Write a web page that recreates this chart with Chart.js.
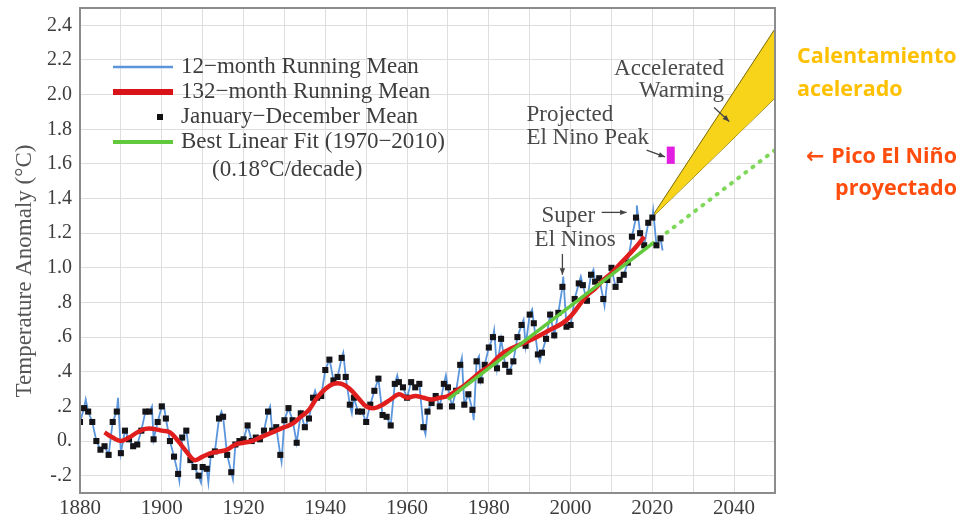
<!DOCTYPE html>
<html>
<head>
<meta charset="utf-8">
<script src="https://cdn.jsdelivr.net/npm/chart.js@4.4.1/dist/chart.umd.min.js"></script>
<style>
  body { margin: 0; background: #fff; }
  #wrap { width: 964px; height: 521px; }
</style>
</head>
<body>
<div id="wrap"><canvas id="temp-chart" width="964" height="521"></canvas></div>
<script>
// annual (January-December) global temperature anomaly, 1880-2022
const firstYear = 1880;
const annualMean = [
  0.11, 0.19, 0.17, 0.11, 0.00, -0.05, -0.03, -0.08, 0.11, 0.17,
  -0.07, 0.06, 0.01, -0.03, -0.02, 0.06, 0.17, 0.17, 0.01, 0.11,
  0.20, 0.13, 0.00, -0.09, -0.19, 0.02, 0.06, -0.11, -0.15, -0.20,
  -0.15, -0.16, -0.08, -0.06, 0.13, 0.14, -0.08, -0.18, -0.02, 0.00,
  0.01, 0.09, 0.00, 0.02, 0.01, 0.06, 0.17, 0.06, 0.08, -0.08,
  0.12, 0.19, 0.12, -0.01, 0.16, 0.08, 0.13, 0.25, 0.25, 0.26,
  0.41, 0.47, 0.35, 0.37, 0.48, 0.37, 0.21, 0.25, 0.17, 0.17,
  0.11, 0.21, 0.29, 0.36, 0.15, 0.14, 0.09, 0.33, 0.34, 0.31,
  0.25, 0.34, 0.31, 0.33, 0.08, 0.17, 0.22, 0.26, 0.20, 0.33,
  0.31, 0.20, 0.29, 0.44, 0.21, 0.27, 0.18, 0.46, 0.35, 0.44,
  0.54, 0.60, 0.42, 0.59, 0.44, 0.40, 0.46, 0.60, 0.67, 0.55,
  0.73, 0.68, 0.50, 0.51, 0.59, 0.73, 0.61, 0.74, 0.89, 0.66,
  0.67, 0.82, 0.91, 0.90, 0.81, 0.96, 0.92, 0.94, 0.82, 0.93,
  1.00, 0.89, 0.93, 0.96, 1.03, 1.18, 1.29, 1.20, 1.13, 1.26,
  1.29, 1.13, 1.17
];

// extra excursions of the 12-month running mean between annual points
const monthlyPeakYears = [1881.4, 1889.3, 1897.6, 1900.5, 1904.3, 1909.6, 1911.4, 1914.6, 1917.4, 1926.5,
  1929.3, 1937.5, 1941.3, 1944.4, 1946.5, 1957.6, 1964.5, 1969.5, 1973.4, 1976.3,
  1977.6, 1981.3, 1988.5, 1990.6, 1992.5, 1998.2, 2002.5, 2005.6, 2008.3, 2016.2,
  2020.2, 2022.5];
const monthlyPeakValues = [0.24, 0.25, 0.20, 0.21, -0.23, -0.24, -0.24, 0.17, -0.22, 0.20,
  -0.12, 0.29, 0.44, 0.51, 0.16, 0.38, 0.04, 0.38, 0.48, 0.12,
  0.49, 0.64, 0.70, 0.76, 0.46, 0.95, 0.95, 0.99, 0.78, 1.36,
  1.33, 1.10];

// 132-month running mean
const runningYears = [1886, 1888, 1890, 1892, 1894, 1896, 1898, 1900, 1902, 1904,
  1906, 1908, 1910, 1912, 1914, 1916, 1918, 1920, 1922, 1924,
  1926, 1928, 1930, 1932, 1934, 1936, 1938, 1940, 1942, 1944,
  1946, 1948, 1950, 1952, 1954, 1956, 1958, 1960, 1962, 1964,
  1966, 1968, 1970, 1972, 1974, 1976, 1978, 1980, 1983, 1986,
  1990, 1994, 1998, 2000, 2002, 2004, 2006, 2008, 2010, 2012,
  2014, 2016, 2018];
const runningMean = [0.05, 0.02, 0.00, 0.02, 0.05, 0.07, 0.07, 0.06, 0.05, 0.00,
  -0.06, -0.11, -0.09, -0.07, -0.06, -0.05, -0.02, -0.01, 0.00, 0.02,
  0.04, 0.06, 0.08, 0.10, 0.14, 0.18, 0.25, 0.30, 0.33, 0.33,
  0.30, 0.25, 0.20, 0.19, 0.21, 0.24, 0.27, 0.25, 0.26, 0.25,
  0.24, 0.25, 0.26, 0.29, 0.32, 0.36, 0.40, 0.43, 0.50, 0.54,
  0.58, 0.63, 0.68, 0.72, 0.78, 0.84, 0.88, 0.93, 0.97, 1.02,
  1.07, 1.12, 1.18];

// best linear fit 1970-2010 (0.18 C/decade) and its extension
const fitYears = [1970, 2020];
const fitValues = [0.24, 1.14];
const trendYears = [2020, 2050];
const trendValues = [1.14, 1.68];

// accelerated warming wedge
const wedgeYears = [2019.5, 2050];
const wedgeUpper = [1.28, 2.38];
const wedgeLower = [1.28, 1.98];

// projected El Nino peak
const peakYears = [2024.5, 2024.5];
const peakValues = [1.60, 1.70];

const xGridYears = [1880, 1890, 1900, 1910, 1920, 1930, 1940, 1950, 1960, 1970, 1980,
  1990, 2000, 2010, 2020, 2030, 2040, 2050];
const xTickLabels = ["1880", "1900", "1920", "1940", "1960", "1980", "2000", "2020", "2040"];
const yTicks = [-0.2, 0, 0.2, 0.4, 0.6, 0.8, 1.0, 1.2, 1.4, 1.6, 1.8, 2.0, 2.2, 2.4];
const yTickLabels = ["-.2", "0.", ".2", ".4", ".6", ".8", "1.0", "1.2", "1.4", "1.6", "1.8", "2.0", "2.2", "2.4"];

const pairs = (xs, ys) => xs.map((x, i) => ({ x: x, y: ys[i] }));

const annualPoints = annualMean.map((v, i) => ({ x: firstYear + i, y: v }));
const monthlyLine = annualPoints
  .concat(pairs(monthlyPeakYears, monthlyPeakValues))
  .sort((a, b) => a.x - b.x);

const SERIF = "'Liberation Serif', 'DejaVu Serif', serif";
const TEXT = "#3d3d3d";

// legend, annotations, frame, axis title and side notes
const decorations = {
  id: "decorations",
  afterDatasetsDraw(chart) {
    const { ctx, chartArea: a, scales } = chart;
    const px = (yr) => scales.x.getPixelForValue(yr);
    const py = (v) => scales.y.getPixelForValue(v);

    ctx.save();
    // plot frame
    ctx.strokeStyle = "#8c8c8c";
    ctx.lineWidth = 2;
    ctx.strokeRect(a.left, a.top, a.right - a.left, a.bottom - a.top);

    // y axis title
    ctx.save();
    ctx.translate(25, 271);
    ctx.rotate(-Math.PI / 2);
    ctx.font = "23px " + SERIF;
    ctx.fillStyle = "#555";
    ctx.textAlign = "center";
    ctx.textBaseline = "middle";
    ctx.fillText("Temperature Anomaly (\u00b0C)", 0, 0);
    ctx.restore();

    // legend
    const lx = a.left + 33, lw = 60, tx = a.left + 101;
    const rows = [59, 84, 109, 134];
    ctx.font = "23px " + SERIF;
    ctx.fillStyle = TEXT;
    ctx.textBaseline = "middle";
    ctx.textAlign = "left";
    const items = [
      { label: "12\u2212month Running Mean", color: "#5b95dc", width: 2.5 },
      { label: "132\u2212month Running Mean", color: "#d8141a", width: 6 },
      { label: "January\u2212December Mean", dot: true },
      { label: "Best Linear Fit (1970\u22122010)", color: "#62c83c", width: 4 }
    ];
    items.forEach((it, i) => {
      const y = a.top + rows[i];
      if (it.dot) {
        ctx.fillStyle = "#111";
        ctx.fillRect(lx + 44, y - 3, 6, 6);
      } else {
        ctx.strokeStyle = it.color;
        ctx.lineWidth = it.width;
        ctx.beginPath();
        ctx.moveTo(lx, y);
        ctx.lineTo(lx + lw, y);
        ctx.stroke();
      }
      ctx.fillStyle = TEXT;
      ctx.fillText(it.label, tx, y);
    });
    ctx.fillText("(0.18\u00b0C/decade)", a.left + 132, a.top + 162);

    // annotation text
    const notes = [
      { t: "Accelerated", x: 2037.5, y: 2.15, align: "right" },
      { t: "Warming", x: 2037.5, y: 2.02, align: "right" },
      { t: "Projected", x: 1989.2, y: 1.88, align: "left" },
      { t: "El Nino Peak", x: 1989.2, y: 1.75, align: "left" },
      { t: "Super", x: 1992.9, y: 1.30, align: "left" },
      { t: "El Ninos", x: 1991.2, y: 1.16, align: "left" }
    ];
    ctx.font = "23px " + SERIF;
    ctx.fillStyle = "#4a4a4a";
    notes.forEach((n) => {
      ctx.textAlign = n.align;
      ctx.fillText(n.t, px(n.x), py(n.y));
    });

    // annotation arrows
    const arrows = [
      [2035.1, 1.925, 2038.8, 1.845],
      [2018.6, 1.68, 2023.1, 1.64],
      [2007.6, 1.32, 2013.7, 1.32],
      [1998.0, 1.08, 1998.0, 0.96]
    ];
    ctx.strokeStyle = "#444";
    ctx.fillStyle = "#444";
    ctx.lineWidth = 1.3;
    arrows.forEach(([x0, y0, x1, y1]) => {
      const ax = px(x0), ay = py(y0), bx = px(x1), by = py(y1);
      const ang = Math.atan2(by - ay, bx - ax);
      ctx.beginPath();
      ctx.moveTo(ax, ay);
      ctx.lineTo(bx, by);
      ctx.stroke();
      ctx.beginPath();
      ctx.moveTo(bx, by);
      ctx.lineTo(bx - 7 * Math.cos(ang - 0.4), by - 7 * Math.sin(ang - 0.4));
      ctx.lineTo(bx - 7 * Math.cos(ang + 0.4), by - 7 * Math.sin(ang + 0.4));
      ctx.closePath();
      ctx.fill();
    });

    // side notes in Spanish
    ctx.font = "bold 21.5px 'Open Sans', sans-serif";
    ctx.textAlign = "left";
    ctx.fillStyle = "#ffc000";
    ctx.fillText("Calentamiento", a.right + 22, 57);
    ctx.fillText("acelerado", a.right + 22, 90);
    ctx.textAlign = "right";
    ctx.fillStyle = "#ff4d0d";
    ctx.fillText("Pico El Ni\u00f1o", 957, 157);
    ctx.fillText("proyectado", 957, 189);
    const w = ctx.measureText("Pico El Ni\u00f1o").width;
    ctx.font = "bold 22px 'DejaVu Sans', sans-serif";
    ctx.fillText("\u2190", 957 - w - 7, 157);
    ctx.restore();
  }
};

const ctx = document.getElementById("temp-chart").getContext("2d");

const chart = new Chart(ctx, {
  type: "line",
  data: {
    datasets: [
      {
        label: "Accelerated Warming",
        data: pairs(wedgeYears, wedgeUpper),
        borderColor: "#7a6a08",
        borderWidth: 1,
        backgroundColor: "#f7d31a",
        fill: "+1",
        pointRadius: 0,
        order: 9
      },
      {
        label: "wedge lower",
        data: pairs(wedgeYears, wedgeLower),
        borderColor: "#7a6a08",
        borderWidth: 1,
        pointRadius: 0,
        fill: false,
        order: 9
      },
      {
        label: "12-month Running Mean",
        data: monthlyLine,
        borderColor: "#5b95dc",
        borderWidth: 1.8,
        pointRadius: 0,
        fill: false,
        order: 7
      },
      {
        label: "trend extension",
        data: pairs(trendYears, trendValues),
        borderColor: "#7fd85a",
        borderWidth: 4,
        borderDash: [1, 8],
        borderCapStyle: "round",
        pointRadius: 0,
        fill: false,
        order: 6
      },
      {
        type: "scatter",
        label: "January-December Mean",
        data: annualPoints,
        pointStyle: "rect",
        pointRadius: 4.3,
        backgroundColor: "#141418",
        borderColor: "#141418",
        borderWidth: 0,
        order: 5
      },
      {
        label: "132-month Running Mean",
        data: pairs(runningYears, runningMean),
        borderColor: "#e01e1e",
        borderWidth: 4.5,
        tension: 0.4,
        pointRadius: 0,
        fill: false,
        order: 4
      },
      {
        label: "Best Linear Fit (1970-2010)",
        data: pairs(fitYears, fitValues),
        borderColor: "#62c83c",
        borderWidth: 3.5,
        pointRadius: 0,
        fill: false,
        order: 3
      },
      {
        label: "Projected El Nino Peak",
        data: pairs(peakYears, peakValues),
        borderColor: "#e21fe0",
        borderWidth: 8,
        pointRadius: 0,
        fill: false,
        order: 2
      }
    ]
  },
  options: {
    responsive: false,
    animation: false,
    layout: { padding: { left: 0, right: 189, top: 8, bottom: 0 } },
    plugins: {
      legend: { display: false },
      tooltip: { enabled: false }
    },
    scales: {
      x: {
        type: "linear",
        min: 1880,
        max: 2050,
        afterBuildTicks: (scale) => {
          scale.ticks = xGridYears.map((v) => ({ value: v }));
        },
        afterFit: (scale) => {
          scale.height = 28;
          scale.paddingLeft = 0;
          scale.paddingRight = 0;
        },
        grid: { color: "#dedede", lineWidth: 1, drawTicks: false },
        border: { color: "#8c8c8c", width: 2 },
        ticks: {
          padding: 3,
          maxRotation: 0,
          autoSkip: false,
          color: TEXT,
          font: { family: SERIF, size: 21 },
          callback: (v) => {
            const s = String(v);
            return xTickLabels.includes(s) ? s : "";
          }
        }
      },
      y: {
        min: -0.3,
        max: 2.5,
        afterBuildTicks: (scale) => {
          scale.ticks = yTicks.map((v) => ({ value: v }));
        },
        afterFit: (scale) => {
          scale.width = 80;
          scale.paddingTop = 0;
          scale.paddingBottom = 0;
        },
        grid: { color: "#dedede", lineWidth: 1, drawTicks: false },
        border: { color: "#8c8c8c", width: 2 },
        ticks: {
          padding: 8,
          autoSkip: false,
          color: TEXT,
          font: { family: SERIF, size: 20 },
          callback: (v, i) => yTickLabels[i]
        }
      }
    }
  },
  plugins: [decorations]
});
</script>
</body>
</html>
